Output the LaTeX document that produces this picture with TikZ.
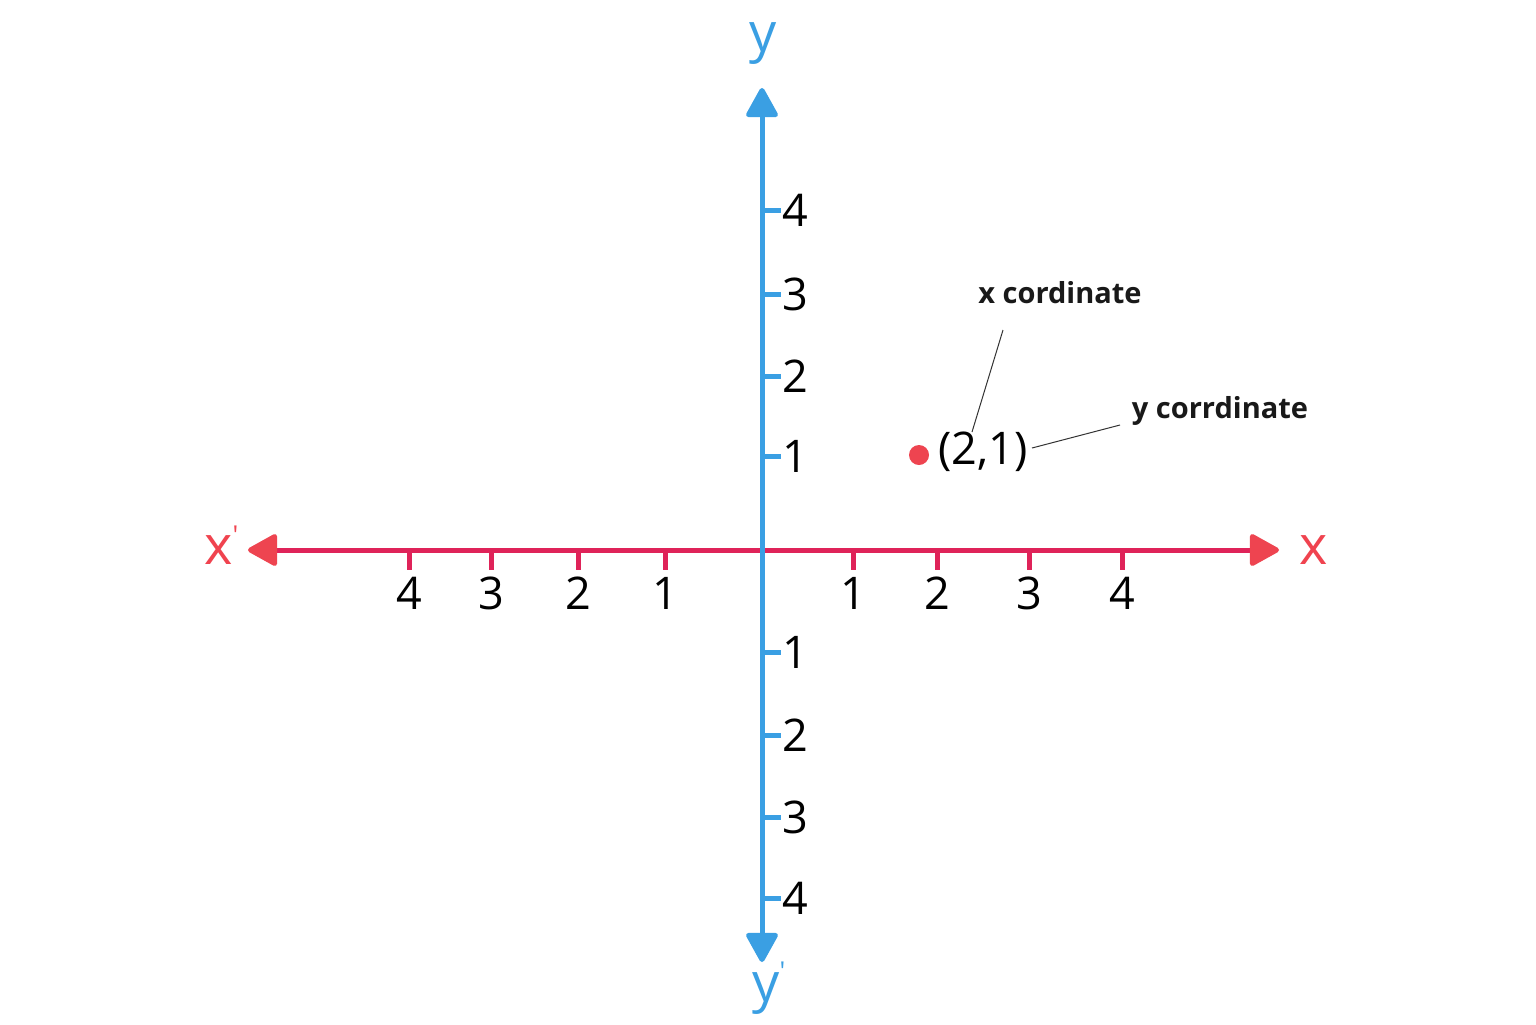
\documentclass[tikz,border=0pt]{standalone}
\usepackage{fontspec}
\setmainfont{Open Sans}
\usetikzlibrary{arrows.meta}
\definecolor{axblue}{HTML}{3A9FE3}
\definecolor{axred}{HTML}{DF2359}
\definecolor{tipred}{HTML}{EE4450}
\definecolor{lblred}{HTML}{F0434F}
\newcommand{\primemark}{\raisebox{0.38em}{\fontsize{13}{13}\selectfont\textquotesingle}}
\tikzset{
  xaxis/.style={draw=axred,line width=2.5pt},
  yaxis/.style={draw=axblue,line width=2.5pt},
  rtip/.style={-{Triangle[length=16pt,width=17pt,fill=tipred,color=tipred,round]}},
  btip/.style={-{Triangle[length=16pt,width=17pt,fill=axblue,color=axblue,round]}},
  xtick/.style={draw=axred,line width=2.5pt},
  ytick/.style={draw=axblue,line width=2.5pt},
  num/.style={font=\fontsize{22.5}{26}\selectfont,text=black,inner sep=0pt},
  axlbl/.style={font=\fontsize{27}{30}\selectfont,inner sep=0pt},
  annot/.style={font=\bfseries\fontsize{14.5}{17}\selectfont,text=black!90,inner sep=0pt},
  lead/.style={draw=black!80,line width=0.5pt},
}
\begin{document}
\begin{tikzpicture}[x=0.5pt,y=-0.5pt]
\useasboundingbox[fill=white] (0,0) rectangle (1536,1024);
% axes
\coordinate (O) at (762,550);
\coordinate (xR) at (1279,550);
\coordinate (xL) at (248,550);
\coordinate (yT) at (762,88);
\coordinate (yB) at (762,962);
\draw[xaxis,rtip] (O) -- (xR);
\draw[xaxis,rtip] (O) -- (xL);
\draw[yaxis,btip] (O) -- (yT);
\draw[yaxis,btip] (O) -- (yB);
% x ticks
\foreach \x/\l [count=\i] in {409/4,491/3,578/2,665/1,853/1,937/2,1029/3,1122/4}{
  \coordinate (xt\i a) at (\x,551);
  \coordinate (xt\i b) at (\x,570);
  \draw[xtick] (xt\i a) -- (xt\i b);
  \node[num] (xn\i) at (\x,593) {\l};
}
% y ticks
\foreach \y/\l [count=\i] in {210/4,294/3,376/2,456/1,652/1,735/2,817/3,898/4}{
  \coordinate (yt\i a) at (763,\y);
  \coordinate (yt\i b) at (781,\y);
  \draw[ytick] (yt\i a) -- (yt\i b);
  \node[num,anchor=west] (yn\i) at (782,\y) {\l};
}
% axis labels
\node[axlbl,text=lblred] (xlab) at (1314,550) {x};
\node[axlbl,text=lblred,anchor=west] (xplab) at (204,545) {x\primemark};
\node[axlbl,text=axblue] (ylab) at (763,44) {y};
\node[axlbl,text=axblue,anchor=west] (yplab) at (752,988) {y\primemark};
% point
\node[circle,fill=tipred,minimum size=10pt,inner sep=0pt] (pt) at (919,455) {};
\node[num,anchor=west] (ptl) at (938,452) {(2,1)};
% annotations
\node[annot] (xc) at (1060,293) {x cordinate};
\node[annot] (yc) at (1220,411) {y corrdinate};
\coordinate (xca) at (1003,330);
\coordinate (xcb) at (972,432);
\coordinate (yca) at (1120,425);
\coordinate (ycb) at (1032,448);
\draw[lead] (xca) -- (xcb);
\draw[lead] (yca) -- (ycb);
\end{tikzpicture}
\end{document}
